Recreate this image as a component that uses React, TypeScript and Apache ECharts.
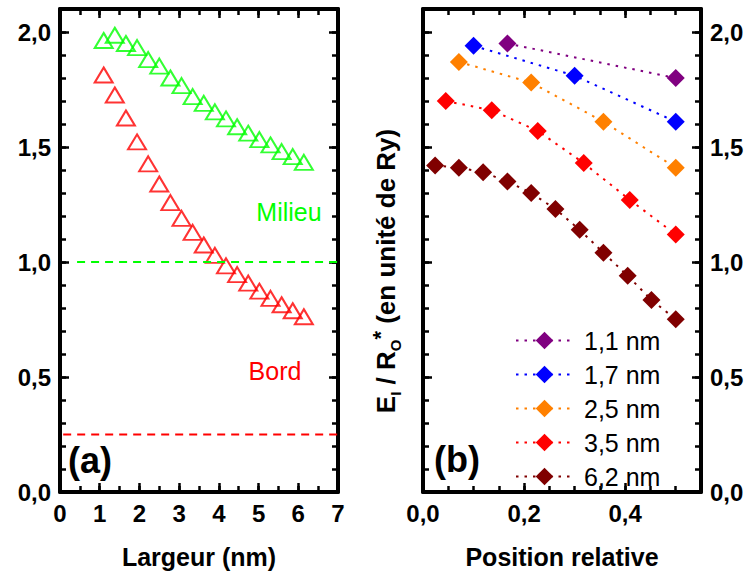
import React, { useEffect, useRef } from 'react';
import * as echarts from 'echarts';

const FONT = '"Liberation Sans", Arial, Helvetica, sans-serif';

// Panel (a): width (nm) vs energy
const largeurNm = [1.1, 1.38, 1.66, 1.94, 2.22, 2.5, 2.78, 3.06, 3.34, 3.62, 3.9, 4.18, 4.46, 4.74, 5.02, 5.3, 5.58, 5.86, 6.14];
const milieu = [1.963, 1.986, 1.95, 1.932, 1.88, 1.852, 1.8, 1.767, 1.719, 1.69, 1.653, 1.622, 1.588, 1.56, 1.532, 1.509, 1.48, 1.458, 1.433];
const bord = [1.813, 1.726, 1.626, 1.522, 1.427, 1.339, 1.258, 1.19, 1.129, 1.074, 1.029, 0.983, 0.945, 0.908, 0.873, 0.842, 0.814, 0.788, 0.762];
const milieuLimitX = [0.43, 7];
const milieuLimitY = [1.0, 1.0];
const bordLimitX = [0.08, 7];
const bordLimitY = [0.25, 0.25];

// Panel (b): relative position vs energy
const names = ['1,1 nm', '1,7 nm', '2,5 nm', '3,5 nm', '6,2 nm'];
const colors = ['#800080', '#0000ff', '#ff8000', '#ff0000', '#800000'];
const pos11 = [0.167, 0.5];
const e11 = [1.95, 1.8];
const pos17 = [0.1, 0.3, 0.5];
const e17 = [1.94, 1.81, 1.61];
const pos25 = [0.071, 0.214, 0.357, 0.5];
const e25 = [1.87, 1.78, 1.61, 1.41];
const pos35 = [0.045, 0.136, 0.227, 0.318, 0.409, 0.5];
const e35 = [1.7, 1.66, 1.57, 1.43, 1.27, 1.12];
const pos62 = [0.024, 0.071, 0.119, 0.167, 0.214, 0.262, 0.31, 0.357, 0.405, 0.452, 0.5];
const e62 = [1.42, 1.41, 1.39, 1.35, 1.3, 1.23, 1.14, 1.04, 0.94, 0.835, 0.751];

const zip = (xs: number[], ys: number[]) => xs.map((x, i) => [x, ys[i]]);

const fmtStep = (step: number, digits: number) => (v: number) => {
  const r = v / step;
  return Math.abs(r - Math.round(r)) < 1e-6 ? v.toFixed(digits).replace('.', ',') : '';
};

const mk = (grid: number, position: string, min: number, max: number, interval: number, major: boolean, fmt?: (v: number) => string, extra: any = {}) => ({
  gridIndex: grid,
  type: 'value',
  position,
  min,
  max,
  interval,
  axisLine: { show: major, onZero: false, lineStyle: { color: '#000', width: 4 } },
  axisTick: { show: true, inside: true, length: major ? 9 : 6, lineStyle: { color: '#000', width: 2.5 } },
  axisLabel: fmt
    ? { show: true, formatter: fmt, color: '#000', fontSize: 24, fontWeight: 'bold', fontFamily: FONT, margin: 9 }
    : { show: false },
  splitLine: { show: false },
  ...extra,
});

const titleStyle = { fontSize: 25, fontWeight: 'bold', fontFamily: FONT, color: '#000' };

const option: any = {
  animation: false,
  backgroundColor: '#fff',
  textStyle: { fontFamily: FONT },
  grid: [
    { left: 60, top: 9, width: 278, height: 483 },
    { left: 423, top: 9, width: 278, height: 483 },
  ],
  xAxis: [
    mk(0, 'bottom', 0, 7, 1, true, fmtStep(1, 0), { name: 'Largeur (nm)', nameLocation: 'middle', nameGap: 52, nameTextStyle: titleStyle }),
    mk(0, 'bottom', 0, 7, 0.5, false),
    mk(0, 'top', 0, 7, 1, true),
    mk(0, 'top', 0, 7, 0.5, false),
    mk(1, 'bottom', 0, 0.55, 0.2, true, fmtStep(0.2, 1), { name: 'Position relative', nameLocation: 'middle', nameGap: 52, nameTextStyle: titleStyle }),
    mk(1, 'bottom', 0, 0.55, 0.05, false),
    mk(1, 'top', 0, 0.55, 0.2, true),
    mk(1, 'top', 0, 0.55, 0.05, false),
  ],
  yAxis: [
    mk(0, 'left', 0, 2.1, 0.5, true, fmtStep(0.5, 1)),
    mk(0, 'left', 0, 2.1, 0.1, false),
    mk(0, 'right', 0, 2.1, 0.5, true),
    mk(0, 'right', 0, 2.1, 0.1, false),
    mk(1, 'right', 0, 2.1, 0.5, true, fmtStep(0.5, 1)),
    mk(1, 'right', 0, 2.1, 0.1, false),
    mk(1, 'left', 0, 2.1, 0.5, true),
    mk(1, 'left', 0, 2.1, 0.1, false),
  ],
  legend: {
    data: names,
    orient: 'vertical',
    left: 510,
    top: 323,
    itemWidth: 57,
    itemHeight: 22,
    itemGap: 9,
    selectedMode: false,
    textStyle: { fontSize: 25, fontFamily: FONT, color: '#000', lineHeight: 25, padding: [0, 0, 0, 6] },
  },
  series: [
    {
      type: 'line', name: 'limitMilieu', xAxisIndex: 0, yAxisIndex: 0, symbol: 'none',
      data: zip(milieuLimitX, milieuLimitY),
      lineStyle: { color: '#00ff00', width: 2, type: [8, 6] },
    },
    {
      type: 'line', name: 'limitBord', xAxisIndex: 0, yAxisIndex: 0, symbol: 'none',
      data: zip(bordLimitX, bordLimitY),
      lineStyle: { color: '#ff0000', width: 2, type: [8, 6] },
    },
    {
      type: 'scatter', name: 'Milieu', xAxisIndex: 0, yAxisIndex: 0, symbol: 'triangle', symbolSize: [18, 15],
      data: zip(largeurNm, milieu),
      itemStyle: { color: 'rgba(0,0,0,0)', borderColor: '#00ff00', borderWidth: 2 },
    },
    {
      type: 'scatter', name: 'Bord', xAxisIndex: 0, yAxisIndex: 0, symbol: 'triangle', symbolSize: [18, 15],
      data: zip(largeurNm, bord),
      itemStyle: { color: 'rgba(0,0,0,0)', borderColor: '#ff0000', borderWidth: 2 },
    },
    ...[
      [pos11, e11],
      [pos17, e17],
      [pos25, e25],
      [pos35, e35],
      [pos62, e62],
    ].map(([xs, ys], i) => ({
      type: 'line',
      name: names[i],
      xAxisIndex: 4,
      yAxisIndex: 4,
      symbol: 'diamond',
      symbolSize: 18,
      data: zip(xs, ys),
      itemStyle: { color: colors[i] },
      lineStyle: { color: colors[i], width: 2, type: [2.5, 6] },
    })),
  ],
  graphic: [
    { type: 'text', x: 289, y: 212, style: { text: 'Milieu', fill: '#00ff00', fontSize: 25, fontFamily: FONT, align: 'center', verticalAlign: 'middle' } },
    { type: 'text', x: 275, y: 371, style: { text: 'Bord', fill: '#ff0000', fontSize: 25, fontFamily: FONT, align: 'center', verticalAlign: 'middle' } },
    { type: 'text', x: 90, y: 460, style: { text: '(a)', fill: '#000', fontSize: 36, fontWeight: 'bold', fontFamily: FONT, align: 'center', verticalAlign: 'middle' } },
    { type: 'text', x: 457, y: 459, style: { text: '(b)', fill: '#000', fontSize: 36, fontWeight: 'bold', fontFamily: FONT, align: 'center', verticalAlign: 'middle' } },
    {
      type: 'text', x: 386, y: 271, rotation: Math.PI / 2,
      style: {
        text: '{m|E}{s|I}{m| / R}{s|O}{p|*}{m| (en unité de Ry)}',
        align: 'center', verticalAlign: 'middle',
        rich: {
          m: { fontSize: 26, fontWeight: 'bold', fontFamily: FONT, fill: '#000', lineHeight: 34 },
          s: { fontSize: 15, fontWeight: 'bold', fontFamily: FONT, fill: '#000', lineHeight: 12, verticalAlign: 'bottom' },
          p: { fontSize: 22, fontWeight: 'bold', fontFamily: FONT, fill: '#000', lineHeight: 22, verticalAlign: 'top' },
        },
      },
    },
  ],
};

export default function App() {
  const ref = useRef<HTMLDivElement>(null);
  useEffect(() => {
    document.body.style.margin = '0';
    const chart = echarts.init(ref.current!, null, { renderer: 'svg' });
    chart.setOption(option);
    return () => chart.dispose();
  }, []);
  return <div ref={ref} style={{ width: 749, height: 576, background: '#fff' }} />;
}
